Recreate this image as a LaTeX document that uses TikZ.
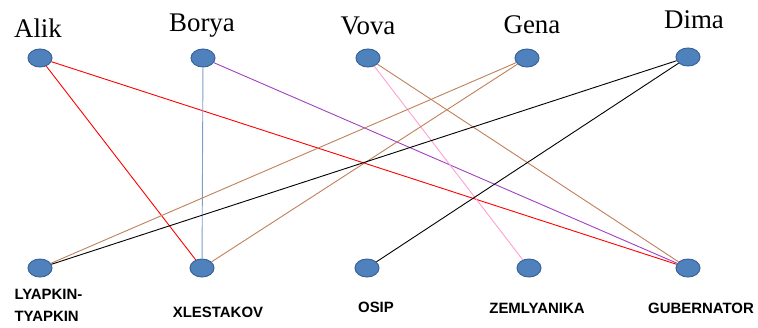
\documentclass[tikz,border=0pt]{standalone}
\usepackage{fontspec}
\setmainfont{Liberation Serif}
\newfontfamily\rolefont{Liberation Sans}
\usetikzlibrary{shapes.geometric}

\definecolor{dotblue}{HTML}{4F81BD}
\definecolor{dotrim}{HTML}{3B6597}
\definecolor{edgebrown}{HTML}{C0805A}
\definecolor{edgepurple}{HTML}{A040C0}
\definecolor{edgepink}{HTML}{FF9FD0}
\definecolor{edgeblue}{HTML}{7F9CCB}

\tikzset{
	dot/.style={ellipse, fill=dotblue, draw=dotrim, line width=1bp, minimum width=24bp, minimum height=18bp, inner sep=0pt},
	boyname/.style={anchor=base, font=\fontsize{27}{30}\selectfont},
	rolename/.style={font=\rolefont\bfseries\fontsize{15}{22}\selectfont},
	link/.style={line width=0.9bp}
}

\begin{document}
\begin{tikzpicture}[x=1bp, y=-1bp]
					\useasboundingbox (0,0) rectangle (758,327);
					
					% boys
					\node[dot] (alik) at (40,58) {};
					\node[dot] (borya) at (203,58) {};
					\node[dot] (vova) at (368,58) {};
					\node[dot] (gena) at (527,58) {};
					\node[dot] (dima) at (688,57) {};
					
					\node[boyname] (alikname) at (38,37) {Alik};
					\node[boyname] (boryaname) at (202,31) {Borya};
					\node[boyname] (vovaname) at (368,34) {Vova};
					\node[boyname] (genaname) at (532,33) {Gena};
					\node[boyname] (dimaname) at (694,28) {Dima};
					
					% roles
					\node[dot] (lyapkin) at (40,268) {};
					\node[dot] (xlestakov) at (202,268) {};
					\node[dot] (osip) at (367,268) {};
					\node[dot] (zemlyanika) at (529,268) {};
					\node[dot] (gubernator) at (688,268) {};
					
					\node[rolename, align=left, anchor=north west] (lyapkinname) at (11,286) {LYAPKIN-\\TYAPKIN};
					\node[rolename] (xlestakovname) at (218,312) {XLESTAKOV};
					\node[rolename] (osipname) at (376,307) {OSIP};
					\node[rolename] (zemlyanikaname) at (537,308) {ZEMLYANIKA};
					\node[rolename] (gubernatorname) at (701,308) {GUBERNATOR};
					
					% links
					\draw[link, red] (alik) -- (xlestakov);
					\draw[link, red] (alik) -- (gubernator);
					\draw[link, edgeblue] (borya) -- (xlestakov);
					\draw[link, edgepurple] (borya) -- (gubernator);
					\draw[link, edgepink] (vova) -- (zemlyanika);
					\draw[link, edgebrown] (vova) -- (gubernator);
					\draw[link, edgebrown] (gena) -- (lyapkin);
					\draw[link, edgebrown] (gena) -- (xlestakov);
					\draw[link, black] (dima) -- (lyapkin);
					\draw[link, black] (dima) -- (osip);
				\end{tikzpicture}
\end{document}
